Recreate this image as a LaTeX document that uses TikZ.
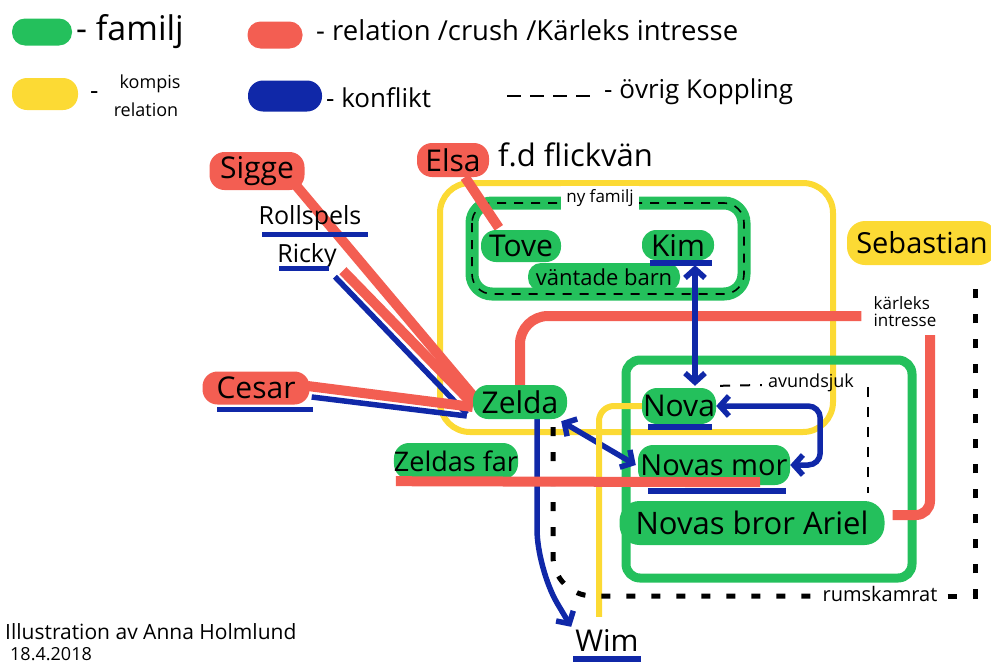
\documentclass[tikz,border=0pt]{standalone}
\usepackage{fontspec}
\setmainfont{Open Sans}
\usetikzlibrary{arrows.meta,calc}
\definecolor{cg}{RGB}{36,192,92}
\definecolor{cr}{RGB}{243,94,82}
\definecolor{cy}{RGB}{252,218,52}
\definecolor{cb}{RGB}{16,40,168}
\pgfdeclarelayer{bg}\pgfdeclarelayer{mid}\pgfdeclarelayer{fg}
\pgfsetlayers{bg,mid,main,fg}
\newcommand{\fsz}[1]{\fontsize{#1}{#1}\selectfont}
\begin{document}
\begin{tikzpicture}[x=1pt,y=-1pt,line cap=round,line join=round,
  txt/.style={inner sep=0pt,text=black},
  gp/.style={fill=cg,rounded corners=15pt,inner sep=0pt,text=black,font=\fsz{30}},
  rp/.style={fill=cr,rounded corners=15pt,inner sep=0pt,text=black,font=\fsz{30}},
  yp/.style={fill=cy,rounded corners=15pt,inner sep=0pt,text=black,font=\fsz{30}},
  bp/.style={fill=cb,rounded corners=15pt,inner sep=0pt},
  rline/.style={draw=cr,line width=10pt},
  bline/.style={draw=cb,line width=5.5pt},
  yline/.style={draw=cy,line width=6pt},
  gline/.style={draw=cg,line width=9pt},
  kdash/.style={draw=black,line width=5pt,dash pattern=on 9pt off 16pt},
  kthin/.style={draw=black,line width=2pt,dash pattern=on 10pt off 10pt},
  barb/.tip={Straight Barb[length=9pt,width=20pt]},
]
\useasboundingbox (0,0) rectangle (991,664);

% ---------- legend ----------
\node[gp,minimum width=60pt,minimum height=27pt,rounded corners=13pt] (lg) at (42,32) {};
\node[txt,anchor=west,font=\fsz{34}] (lgt) at (76,32) {- familj};
\node[rp,minimum width=55pt,minimum height=27pt,rounded corners=13pt] (lr) at (275,35) {};
\node[txt,anchor=west,font=\fsz{27.5}] (lrt) at (316,30) {- relation /crush /Kärleks intresse};
\node[yp,minimum width=66pt,minimum height=32pt] (ly) at (45,94) {};
\node[txt,anchor=west,font=\fsz{26}] (lyd) at (90,96) {-};
\node[txt,font=\fsz{18}] (lyt1) at (150,84) {kompis};
\node[txt,font=\fsz{18}] (lyt2) at (146,110) {relation};
\node[bp,minimum width=74pt,minimum height=31pt] (lb) at (285,96) {};
\node[txt,anchor=west,font=\fsz{26}] (lbt) at (326,98) {- konflikt};
\coordinate (ld1) at (507,96);
\coordinate (ld2) at (590,96);
\draw[draw=black,line width=2pt,dash pattern=on 14pt off 9pt,line cap=butt] (ld1) -- (ld2);
\node[txt,anchor=west,font=\fsz{26}] (ldt) at (604,92) {- övrig Koppling};

% ---------- group boxes ----------
\begin{pgfonlayer}{bg}
\draw[yline,rounded corners=30pt] (440,183) rectangle (833,432);
\draw[gline,rounded corners=14pt] (626,360) rectangle (912,578);
\draw[draw=cg,line width=13pt,rounded corners=20pt] (472,203) rectangle (744,294);
\draw[draw=black,line width=1.6pt,dash pattern=on 9pt off 8pt,rounded corners=20pt] (472,203) rectangle (744,294);
\end{pgfonlayer}

% ---------- nodes ----------
\node[txt,fill=white,inner xsep=5pt,inner ysep=3pt,font=\fsz{17}] (nf) at (600,198) {ny familj};
\node[rp,minimum width=95pt,minimum height=38pt] (sigge) at (257,171) {Sigge};
\node[rp,minimum width=72pt,minimum height=34pt] (elsa) at (453,160) {Elsa};
\node[txt,anchor=west,font=\fsz{31}] (fd) at (498,155) {f.d flickvän};
\node[txt,font=\fsz{25}] (rollspels) at (310,218) {Rollspels};
\node[txt,font=\fsz{25}] (ricky) at (307,256) {Ricky};
\node[rp,minimum width=107pt,minimum height=33pt] (cesar) at (256,388) {Cesar};
\node[gp,minimum width=94pt,minimum height=34pt] (zelda) at (520,402) {Zelda};
\node[gp,minimum width=118pt,minimum height=36pt,font=\fsz{27}] (zfar) at (456,461) {Zeldas far};
\node[gp,minimum width=152pt,minimum height=28pt,rounded corners=13pt,font=\fsz{22}] (vbarn) at (604,277) {väntade barn};
\node[gp,minimum width=80pt,minimum height=32pt] (tove) at (521,246) {Tove};
\node[gp,minimum width=72pt,minimum height=30pt,rounded corners=14pt] (kim) at (678,245) {Kim};
\node[gp,minimum width=74pt,minimum height=36pt] (nova) at (679,406) {Nova};
\node[gp,minimum width=152pt,minimum height=40pt,font=\fsz{29}] (nmor) at (714,465) {Novas mor};
\node[gp,minimum width=265pt,minimum height=44pt,rounded corners=20pt,font=\fsz{31}] (ariel) at (752,523) {Novas bror Ariel};
\node[yp,minimum width=150pt,minimum height=44pt,rounded corners=18pt,font=\fsz{29}] (sebastian) at (922,243) {Sebastian};
\node[txt,font=\fsz{30}] (wim) at (607,640) {Wim};
\node[txt,font=\fsz{17},align=left] (kl) at (905,312) {kärleks\\intresse};
\node[txt,font=\fsz{18}] (av) at (811,383) {avundsjuk};
\node[txt,font=\fsz{20}] (rk) at (880,594) {rumskamrat};
\node[txt,anchor=west,font=\fsz{21}] (cred) at (5,632) {Illustration av Anna Holmlund};
\node[txt,anchor=west,font=\fsz{18}] (date) at (10,654) {18.4.2018};

% ---------- connectors ----------
\begin{pgfonlayer}{mid}
% Sigge -> Zelda
\draw[rline] ($(sigge.south east)+(-8,-4)$) -- ($(zelda.west)+(8,3)$);
% Ricky -> Zelda
\draw[bline] ($(ricky.south east)+(-2,8)$) -- ($(zelda.west)+(-6,12)$);
\draw[rline] ($(ricky.south east)+(6,2)$) -- ($(zelda.west)+(0,2)$);
% Cesar -> Zelda
\draw[bline] ($(cesar.east)+(2,9)$) -- ($(zelda.west)+(-6,14)$);
\draw[rline] ($(cesar.east)+(-2,-2)$) -- ($(zelda.west)+(0,5)$);
% Elsa -> Tove
\draw[rline] ($(elsa.south)+(12,0)$) -- ($(tove.north west)+(18,-2)$);
% Zelda -> kärleks intresse -> Ariel
\draw[rline,rounded corners=28pt] (zelda.north) |- ($(kl.west)+(-12,4)$);
\draw[rline,rounded corners=14pt] ($(kl.south)+(25,8)$) |- ($(ariel.east)+(8,-8)$);
% Kim <-> Nova
\draw[bline,barb-barb] ($(kim.south)+(17,5)$) -- ($(nova.north)+(16,-2)$);
% Nova <-> Novas mor
\draw[bline,barb-barb,rounded corners=12pt] (nova.east) -- ++(104,0) |- (nmor.east);
% Zelda <-> Novas mor
\draw[bline,barb-barb] ($(zelda.south east)+(-6,2)$) -- ($(nmor.west)+(-2,0)$);
% Zelda -> Wim
\draw[bline,-barb,rounded corners=40pt] ($(zelda.south)+(17,0)$) -- ++(0,150) -- ($(wim.north west)+(-4,-2)$);
% Nova - Wim (kompis)
\draw[yline,rounded corners=15pt] (nova.west) -| ($(wim.north)+(-8,-12)$);
% roommates Zelda - Sebastian
\draw[kdash,rounded corners=40pt] ($(zelda.south)+(33,8)$) |- ($(rk.west)+(-10,2)$);
\draw[kdash] ($(rk.east)+(10,2)$) -| ($(sebastian.south)+(53,14)$);
% avundsjuk Nova - Ariel
\draw[kthin,line cap=butt] ($(nova.north east)+(4,-2)$) -- ($(av.west)+(-6,2)$);
\draw[kthin,line cap=butt] ($(av.east)+(14,4)$) -- ($(av.east)+(14,110)$);
\end{pgfonlayer}

% ---------- underlines / overlays ----------
\begin{pgfonlayer}{fg}
\draw[rline] ($(zfar.south west)+(2,2)$) -- ($(nmor.south east)+(-30,-3)$);
\draw[bline] ($(rollspels.south west)+(4,4)$) -- ($(rollspels.south east)+(6,4)$);
\draw[bline] ($(ricky.south west)+(2,0)$) -- ($(ricky.south east)+(-8,0)$);
\draw[bline] ($(cesar.south west)+(15,5)$) -- ($(cesar.south east)+(3,5)$);
\draw[bline] ($(kim.south west)+(8,3)$) -- ($(kim.south east)+(-2,3)$);
\draw[bline] ($(nova.south west)+(6,3)$) -- ($(nova.south east)+(-4,3)$);
\draw[bline] ($(nmor.south west)+(10,6)$) -- ($(nmor.south east)+(-4,6)$);
\draw[bline] ($(wim.south west)+(-2,8)$) -- ($(wim.south east)+(2,8)$);
\end{pgfonlayer}
\end{tikzpicture}
\end{document}
